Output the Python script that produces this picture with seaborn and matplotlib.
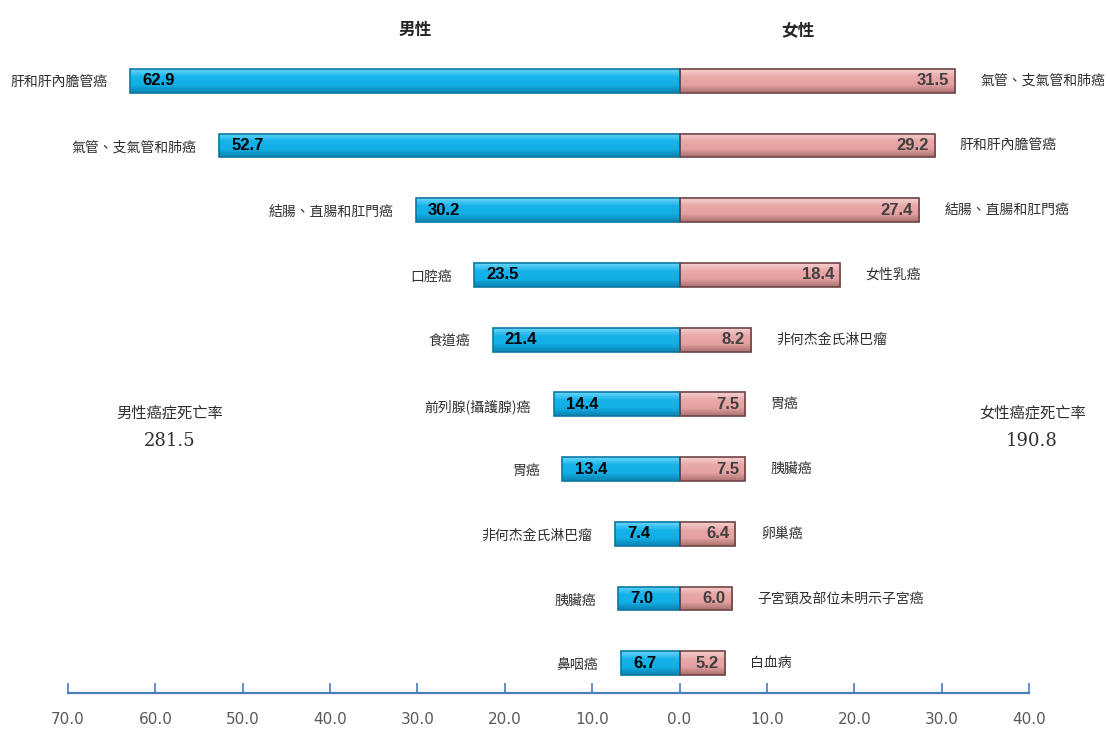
import matplotlib
matplotlib.use("Agg")
import matplotlib.pyplot as plt
import seaborn as sns
import pandas as pd
import numpy as np
from matplotlib.colors import LinearSegmentedColormap

male_cats = ["肝和肝內膽管癌", "氣管、支氣管和肺癌", "結腸、直腸和肛門癌", "口腔癌", "食道癌",
             "前列腺(攝護腺)癌", "胃癌", "非何杰金氏淋巴瘤", "胰臟癌", "鼻咽癌"]
male_vals = [62.9, 52.7, 30.2, 23.5, 21.4, 14.4, 13.4, 7.4, 7.0, 6.7]
female_cats = ["氣管、支氣管和肺癌", "肝和肝內膽管癌", "結腸、直腸和肛門癌", "女性乳癌", "非何杰金氏淋巴瘤",
               "胃癌", "胰臟癌", "卵巢癌", "子宮頸及部位未明示子宮癌", "白血病"]
female_vals = [31.5, 29.2, 27.4, 18.4, 8.2, 7.5, 7.5, 6.4, 6.0, 5.2]
ranks = [str(i) for i in range(1, 11)]
tick_vals = [-70, -60, -50, -40, -30, -20, -10, 0, 10, 20, 30, 40]
male_total = "281.5"
female_total = "190.8"

sns.set_theme(style="white")
plt.rcParams['font.family'] = ['Noto Sans CJK TC', 'DejaVu Sans']

fig = plt.figure(figsize=(11.07, 7.29), dpi=100)
ax = fig.add_axes([68/1107, (729-693)/729, (1029-68)/1107, (693-51)/729])

df_m = pd.DataFrame({"rank": ranks, "val": [-v for v in male_vals]})
df_f = pd.DataFrame({"rank": ranks, "val": female_vals})

sns.barplot(data=df_m, x="val", y="rank", orient="h", order=ranks, ax=ax,
            color="#14AEE6", edgecolor="#0A78A3", linewidth=1.2, width=0.37, saturation=1)
n_m = len(ax.patches)
sns.barplot(data=df_f, x="val", y="rank", orient="h", order=ranks, ax=ax,
            color="#E7A3A3", edgecolor="#6E4646", linewidth=1.2, width=0.37, saturation=1)

ax.set_xlim(-70, 40)
ax.set_ylim(9.46, -0.46)

# bevel-like vertical gradient fill clipped to each bar
cm_blue = LinearSegmentedColormap.from_list("b", ["#6AD6F8", "#16B2EA", "#12AEE6", "#0A82B0"])
cm_pink = LinearSegmentedColormap.from_list("p", ["#F6CFCF", "#E9A8A8", "#E5A0A0", "#A87070"])
grad = np.linspace(0, 1, 64).reshape(-1, 1)
for k, p in enumerate(list(ax.patches)):
    x0, y0 = p.get_x(), p.get_y()
    w, h = p.get_width(), p.get_height()
    cmap = cm_blue if k < n_m else cm_pink
    im = ax.imshow(grad, cmap=cmap, aspect="auto", interpolation="bilinear",
                   extent=[x0, x0 + w, y0 + h, y0], zorder=p.get_zorder() + 0.1)
    im.set_clip_path(p)
    p.set_zorder(p.get_zorder() + 0.2)
    p.set_facecolor("none")

ax.set_xlim(-70, 40)
ax.set_ylim(9.46, -0.46)
ax.set_xlabel("")
ax.set_ylabel("")
ax.set_yticks([])
for s in ["left", "right", "top"]:
    ax.spines[s].set_visible(False)
ax.spines["bottom"].set_color("#4A7EBB")
ax.spines["bottom"].set_linewidth(1.6)
ax.set_xticks(tick_vals)
ax.set_xticklabels([f"{abs(t):.1f}" for t in tick_vals], family=["Liberation Sans Narrow", "DejaVu Sans"],
                   fontsize=11, color="#595959")
ax.tick_params(axis="x", direction="in", length=7, width=1.2, color="#4A7EBB", pad=14, bottom=True)

cjk = ['Noto Sans CJK TC', 'DejaVu Sans']
for i in range(len(ranks)):
    mv = male_vals[i]
    fv = female_vals[i]
    ax.text(-mv + 1.4, i, f"{mv:.1f}", ha="left", va="center", fontsize=12, zorder=10,
            fontweight="bold", color="black", family=["Liberation Sans", "DejaVu Sans"])
    ax.text(fv - 0.7, i, f"{fv:.1f}", ha="right", va="center", fontsize=12, zorder=10,
            fontweight="bold", color="#404040", family=["Liberation Sans", "DejaVu Sans"])
    ax.text(-mv - 2.6, i + 0.03, male_cats[i], ha="right", va="center", fontsize=10,
            color="#303030", family=cjk)
    ax.text(fv + 2.9, i, female_cats[i], ha="left", va="center", fontsize=10,
            color="#303030", family=cjk)

fig.text(415/1107, 1 - 30/729, "男性", ha="center", va="center", fontsize=12, fontweight="bold", family=cjk)
fig.text(798/1107, 1 - 30/729, "女性", ha="center", va="center", fontsize=12, fontweight="bold", family=cjk)
fig.text(170/1107, 1 - 413/729, "男性癌症死亡率", ha="center", va="center",
         fontsize=11, color="#303030", family=cjk)
fig.text(170/1107, 1 - 441/729, male_total, ha="center", va="center",
         fontsize=13, color="#303030", family=["DejaVu Serif"])
fig.text(1032/1107, 1 - 413/729, "女性癌症死亡率", ha="center", va="center",
         fontsize=11, color="#303030", family=cjk)
fig.text(1032/1107, 1 - 441/729, female_total, ha="center", va="center",
         fontsize=13, color="#303030", family=["DejaVu Serif"])

fig.savefig("out.png", dpi=100, facecolor="white")
